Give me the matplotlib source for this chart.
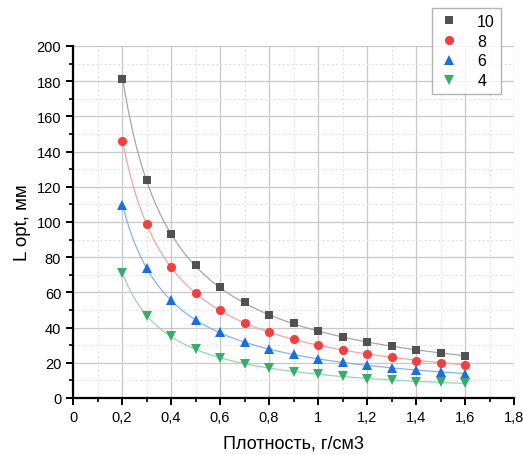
import numpy as np
import matplotlib.pyplot as plt
from matplotlib.ticker import MultipleLocator, FuncFormatter

plt.rcParams['font.family'] = ['Liberation Sans', 'DejaVu Sans']

# Density values and optimal length for each series
density = [0.2, 0.3, 0.4, 0.5, 0.6, 0.7, 0.8, 0.9, 1.0, 1.1, 1.2, 1.3, 1.4, 1.5, 1.6]
L10 = [181.3, 123.9, 93.4, 75.6, 62.9, 54.4, 47.0, 42.4, 38.3, 34.5, 31.6, 29.4, 27.3, 25.6, 23.9]
L8 = [145.8, 99.0, 74.2, 59.8, 50.0, 42.8, 37.3, 33.5, 30.3, 27.3, 25.2, 23.3, 21.2, 19.9, 18.6]
L6 = [109.5, 73.7, 55.5, 44.5, 37.3, 31.6, 28.0, 25.0, 22.2, 20.5, 18.6, 17.0, 15.9, 14.8, 13.6]
L4 = [70.8, 46.8, 35.2, 28.0, 22.9, 19.5, 17.0, 15.0, 13.6, 12.3, 11.0, 10.2, 9.3, 8.9, 8.3]

series = [
    ('10', L10, 's', 5.8, '#515151', '#a6a6a6'),
    ('8', L8, 'o', 6.6, '#f14040', '#f8a3a3'),
    ('6', L6, '^', 7.6, '#1a6fdf', '#86b2ef'),
    ('4', L4, 'v', 7.6, '#37ad6b', '#98d6b3'),
]

fig = plt.figure(figsize=(5.23, 4.56), dpi=100)
ax = fig.add_axes([0.1396, 0.125, 0.8434, 0.772])

x = np.array(density)
xs = np.linspace(x.min(), x.max(), 200)
for name, vals, mk, ms, col, lcol in series:
    y = np.array(vals)
    # power-law fit curve through the points
    p = np.polyfit(np.log(x), np.log(y), 1)
    ax.plot(xs, np.exp(np.polyval(p, np.log(xs))), color=lcol, lw=0.9, zorder=2)
    ax.plot(x, y, mk, color=col, markersize=ms, label=name, zorder=3,
            markeredgewidth=0)

ax.set_xlim(0, 1.8)
ax.set_ylim(0, 200)
ax.xaxis.set_major_locator(MultipleLocator(0.2))
ax.xaxis.set_minor_locator(MultipleLocator(0.1))
ax.yaxis.set_major_locator(MultipleLocator(20))
ax.yaxis.set_minor_locator(MultipleLocator(10))
ax.xaxis.set_major_formatter(FuncFormatter(
    lambda v, pos: ('%g' % round(v, 1)).replace('.', ',')))

ax.grid(True, which='major', color='#c8c8c8', lw=0.9)
ax.grid(True, which='minor', color='#e2e2e2', lw=0.8, ls=(0, (2, 2)))
ax.set_axisbelow(True)

for s in ['top', 'right']:
    ax.spines[s].set_visible(False)
for s in ['left', 'bottom']:
    ax.spines[s].set_linewidth(1.6)
ax.tick_params(which='major', direction='out', length=5, width=1.4,
               labelsize=10.5)
ax.tick_params(which='minor', direction='out', length=3, width=1.2)

ax.set_xlabel('Плотность, г/см3', fontsize=13, labelpad=8)
ax.set_ylabel('L opt, мм', fontsize=13.5, labelpad=4)

leg = ax.legend(loc='upper left', bbox_to_anchor=(0.795, 1.13), fontsize=11.5,
                frameon=True, fancybox=False, edgecolor='#a0a0a0',
                handlelength=1.5, handletextpad=1.0, borderpad=0.35,
                labelspacing=0.3, markerscale=1.0)
leg.get_frame().set_linewidth(1.0)

fig.savefig('out.png', dpi=100)
